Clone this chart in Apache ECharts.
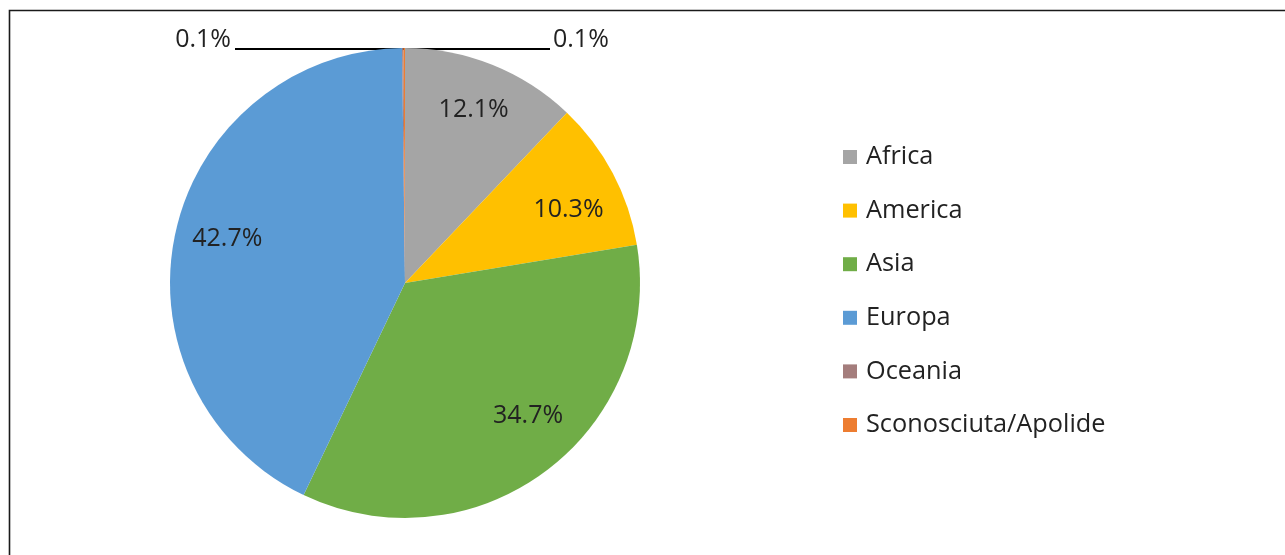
<!DOCTYPE html>
<html>
<head>
<meta charset="utf-8">
<script src="https://cdn.jsdelivr.net/npm/echarts@6/dist/echarts.min.js"></script>
<style>
html,body{margin:0;padding:0;background:#fff;}
#chart{width:1285px;height:555px;}
</style>
</head>
<body>
<div id="chart"></div>
<script>
// Data
const categories = ['Africa', 'America', 'Asia', 'Europa', 'Oceania', 'Sconosciuta/Apolide'];
const percentages = [12.1, 10.3, 34.7, 42.7, 0.1, 0.1];
const colors = ['#A5A5A5', '#FFC000', '#70AD47', '#5B9BD5', '#A47D7C', '#ED7D31'];

// Layout
const CX = 405, CY = 283, R = 235;
const FONT = '"Open Sans", "Liberation Sans", sans-serif';
const TEXT_COLOR = '#222222';
const insideOffsets = [[0, -1], [0, 13], [12, -15], [3, -4]];

const chart = echarts.init(document.getElementById('chart'), null, { renderer: 'canvas' });

const mainData = categories.map((name, i) => ({
  name: name,
  value: percentages[i],
  itemStyle: { color: colors[i] },
  label: { show: i >= 4 },
  labelLine: { show: i >= 4 }
}));

const overlayData = categories.map((name, i) => ({
  name: name,
  value: percentages[i],
  label: i < 4 ? { show: true, offset: insideOffsets[i] } : { show: false }
}));

const option = {
  backgroundColor: '#fff',
  animation: false,
  legend: {
    orient: 'vertical',
    left: 838,
    top: 137,
    itemWidth: 14,
    itemHeight: 14,
    itemGap: 23.6,
    icon: 'rect',
    selectedMode: false,
    data: categories.map((name, i) => ({ name: name, itemStyle: { color: colors[i] } })),
    textStyle: {
      fontFamily: FONT,
      fontSize: 25.3,
      lineHeight: 30,
      color: TEXT_COLOR,
      padding: [0, 0, 0, 4]
    }
  },
  graphic: [{
    type: 'rect',
    silent: true,
    shape: { x: 9.5, y: 10.5, width: 1400, height: 700 },
    style: { fill: 'none', stroke: '#1a1a1a', lineWidth: 1.6 }
  }],
  series: [
    {
      type: 'pie',
      name: 'main',
      center: [CX, CY],
      radius: [0, R],
      startAngle: 90,
      clockwise: true,
      avoidLabelOverlap: false,
      silent: true,
      data: mainData,
      label: {
        position: 'outside',
        formatter: p => p.value.toFixed(1) + '%',
        fontFamily: FONT,
        fontSize: 25,
        color: TEXT_COLOR
      },
      labelLine: {
        show: true,
        lineStyle: { color: '#000', width: 2 }
      },
      labelLayout: function (params) {
        const topY = CY - R + 1;
        if (params.dataIndex === 4) {
          return {
            x: 231, y: 40, align: 'right', verticalAlign: 'middle',
            labelLinePoints: [[CX, topY], [CX - 1, topY], [235, topY]]
          };
        }
        if (params.dataIndex === 5) {
          return {
            x: 553, y: 40, align: 'left', verticalAlign: 'middle',
            labelLinePoints: [[CX, topY], [CX + 1, topY], [550, topY]]
          };
        }
        return {};
      }
    },
    {
      type: 'pie',
      name: 'labels',
      center: [CX, CY],
      radius: [129, R],
      startAngle: 90,
      clockwise: true,
      silent: true,
      avoidLabelOverlap: false,
      itemStyle: { color: 'rgba(0,0,0,0)' },
      emphasis: { disabled: true },
      data: overlayData,
      label: {
        position: 'inside',
        formatter: p => p.value.toFixed(1) + '%',
        fontFamily: FONT,
        fontSize: 25,
        color: TEXT_COLOR
      },
      labelLine: { show: false }
    }
  ]
};

chart.setOption(option);
</script>
</body>
</html>
